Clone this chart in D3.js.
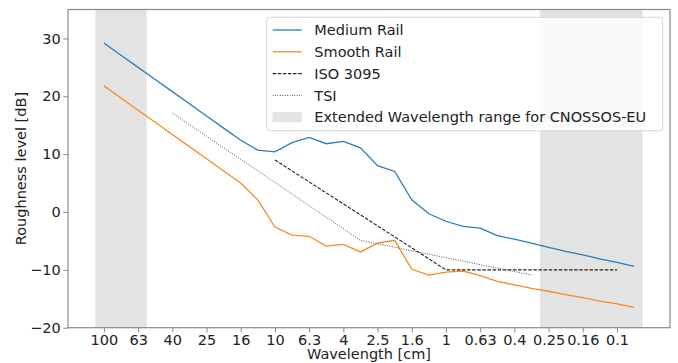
<!DOCTYPE html>
<html>
    <head>
        <style>
            body { margin: 0; background: #fff; }
            text { font-family: "DejaVu Sans", sans-serif; fill: #222; }
        </style>
    </head>
    <body>
        <svg id="chart" width="678" height="363"></svg>

        <script src="https://d3js.org/d3.v7.min.js"></script>
        <script>
            // third-octave wavelength bands [cm]
            const wavelengths = ["100","80","63","50","40","31.5","25","20","16","12.5","10","8","6.3","5","4","3.15",
                           "2.5","2","1.6","1.25","1","0.8","0.63","0.5","0.4","0.315","0.25","0.2","0.16","0.125","0.1","0.08"]
            const tickLabels = ["100","63","40","25","16","10","6.3","4","2.5","1.6","1","0.63","0.4","0.25","0.16","0.1"]

            const mediumRail = [29.2,27.1,25.0,22.9,20.8,18.7,16.6,14.5,12.4,10.7,10.4,12.0,12.9,11.8,12.2,11.1,
                          8.0,7.0,2.1,-0.3,-1.6,-2.5,-2.8,-4.1,-4.7,-5.4,-6.1,-6.8,-7.4,-8.1,-8.7,-9.4]
            const smoothRail = [21.8,19.7,17.6,15.5,13.4,11.3,9.2,7.1,5.0,2.1,-2.6,-4.0,-4.2,-5.9,-5.6,-6.9,
                          -5.4,-4.9,-9.9,-10.9,-10.4,-10.2,-11.0,-12.0,-12.6,-13.2,-13.7,-14.3,-14.8,-15.4,-15.9,-16.5]
            const iso3095 = [null,null,null,null,null,null,null,null,null,null,9.0,7.1,5.2,3.3,1.4,-0.5,
                       -2.4,-4.3,-6.2,-8.1,-10,-10,-10,-10,-10,-10,-10,-10,-10,-10,-10,null]
            const tsi = [null,null,null,null,17.1,15.1,13.1,11.1,9.1,7.1,5.1,3.1,1.1,-0.9,-2.9,-4.9,
                   -5.5,-6.1,-6.7,-7.3,-7.9,-8.5,-9.1,-9.7,-10.3,-10.9,null,null,null,null,null,null]
            // extended range, as band index limits
            const spans = [[-0.5, 2.5], [25.5, 31.5]]
            const yTicks = [-20, -10, 0, 10, 20, 30]

            const plotLeft = 68
            const plotRight = 670
            const plotTop = 9.5
            const plotBottom = 327.7

            const svg = d3.select("#chart")

            const x = d3.scaleLinear().domain([-2.1, 33.1]).range([plotLeft, plotRight])
            const y = d3.scaleLinear().domain([-20, 35]).range([plotBottom, plotTop])

            // grey bands
            svg.append("g")
                .selectAll("rect")
                .data(spans)
                .join("rect")
                    .attr("x", d => x(d[0]))
                    .attr("width", d => x(d[1]) - x(d[0]))
                    .attr("y", plotTop)
                    .attr("height", plotBottom - plotTop)
                    .attr("fill", "#e3e3e3")

            const series = [
                {name: "Medium Rail", values: mediumRail, color: "#2a7db8", dash: null, width: 1.3},
                {name: "Smooth Rail", values: smoothRail, color: "#f98a25", dash: null, width: 1.3},
                {name: "ISO 3095", values: iso3095, color: "#222", dash: "3.5,1.6", width: 1.1},
                {name: "TSI", values: tsi, color: "#555", dash: "1,1.4", width: 1.0}
            ]

            const line = d3.line()
                .defined(d => d[1] != null)
                .x(d => x(d[0]))
                .y(d => y(d[1]))

            svg.append("g")
                .attr("fill", "none")
                .selectAll("path")
                .data(series)
                .join("path")
                    .attr("stroke", d => d.color)
                    .attr("stroke-width", d => d.width)
                    .attr("stroke-dasharray", d => d.dash)
                    .attr("d", d => line(d.values.map((v, i) => [i, v])))

            // axes
            const xAxis = d3.axisBottom(x)
                .tickValues(tickLabels.map(t => wavelengths.indexOf(t)))
                .tickFormat(i => wavelengths[i])
                .tickSize(4.7)
                .tickPadding(2)
            const yAxis = d3.axisLeft(y)
                .tickValues(yTicks)
                .tickFormat(d => d < 0 ? "\u2212" + Math.abs(d) : d)
                .tickSize(4.7)
                .tickPadding(2.5)

            const gx = svg.append("g").attr("transform", `translate(0,${plotBottom})`).call(xAxis)
            const gy = svg.append("g").attr("transform", `translate(${plotLeft},0)`).call(yAxis)
            for (const g of [gx, gy]) {
                g.select(".domain").remove()
                g.selectAll("line").attr("stroke", "#8a8a8a").attr("stroke-width", 1)
                g.selectAll("text").attr("font-size", 14.5).attr("font-family", "DejaVu Sans").attr("fill", "#222")
            }

            // frame
            svg.append("rect")
                .attr("x", plotLeft).attr("y", plotTop)
                .attr("width", plotRight - plotLeft).attr("height", plotBottom - plotTop)
                .attr("fill", "none")
                .attr("stroke", "#8a8a8a")
                .attr("stroke-width", 1.2)

            svg.append("text")
                .attr("x", (plotLeft + plotRight) / 2)
                .attr("y", 359)
                .attr("text-anchor", "middle")
                .attr("font-size", 14.5)
                .text("Wavelength [cm]")

            svg.append("text")
                .attr("transform", `translate(26,${(plotTop + plotBottom) / 2}) rotate(-90)`)
                .attr("text-anchor", "middle")
                .attr("font-size", 14.5)
                .text("Roughness level [dB]")

            // legend
            const legend = svg.append("g")
            legend.append("rect")
                .attr("x", 266.7).attr("y", 17.3)
                .attr("width", 396).attr("height", 113.5)
                .attr("rx", 3)
                .attr("fill", "#fff").attr("fill-opacity", 0.8)
                .attr("stroke", "#d6d6d6")
                .attr("stroke-width", 1)

            const rowY = [30, 51.8, 73.6, 95.4, 117.2]
            const legendRows = series.map(s => s.name).concat(["Extended Wavelength range for CNOSSOS-EU"])

            legend.selectAll("line")
                .data(series)
                .join("line")
                    .attr("x1", 272.7).attr("x2", 301.7)
                    .attr("y1", (d, i) => rowY[i]).attr("y2", (d, i) => rowY[i])
                    .attr("stroke", d => d.color)
                    .attr("stroke-width", d => d.width)
                    .attr("stroke-dasharray", d => d.dash)
            legend.append("rect")
                .attr("x", 272.5).attr("y", rowY[4] - 5)
                .attr("width", 29.5).attr("height", 10)
                .attr("fill", "#e3e3e3")
            legend.selectAll("text")
                .data(legendRows)
                .join("text")
                    .attr("x", 314.3)
                    .attr("y", (d, i) => rowY[i])
                    .attr("dy", "0.36em")
                    .attr("font-size", 14.5)
                    .text(d => d)
        </script>
    </body>
</html>
